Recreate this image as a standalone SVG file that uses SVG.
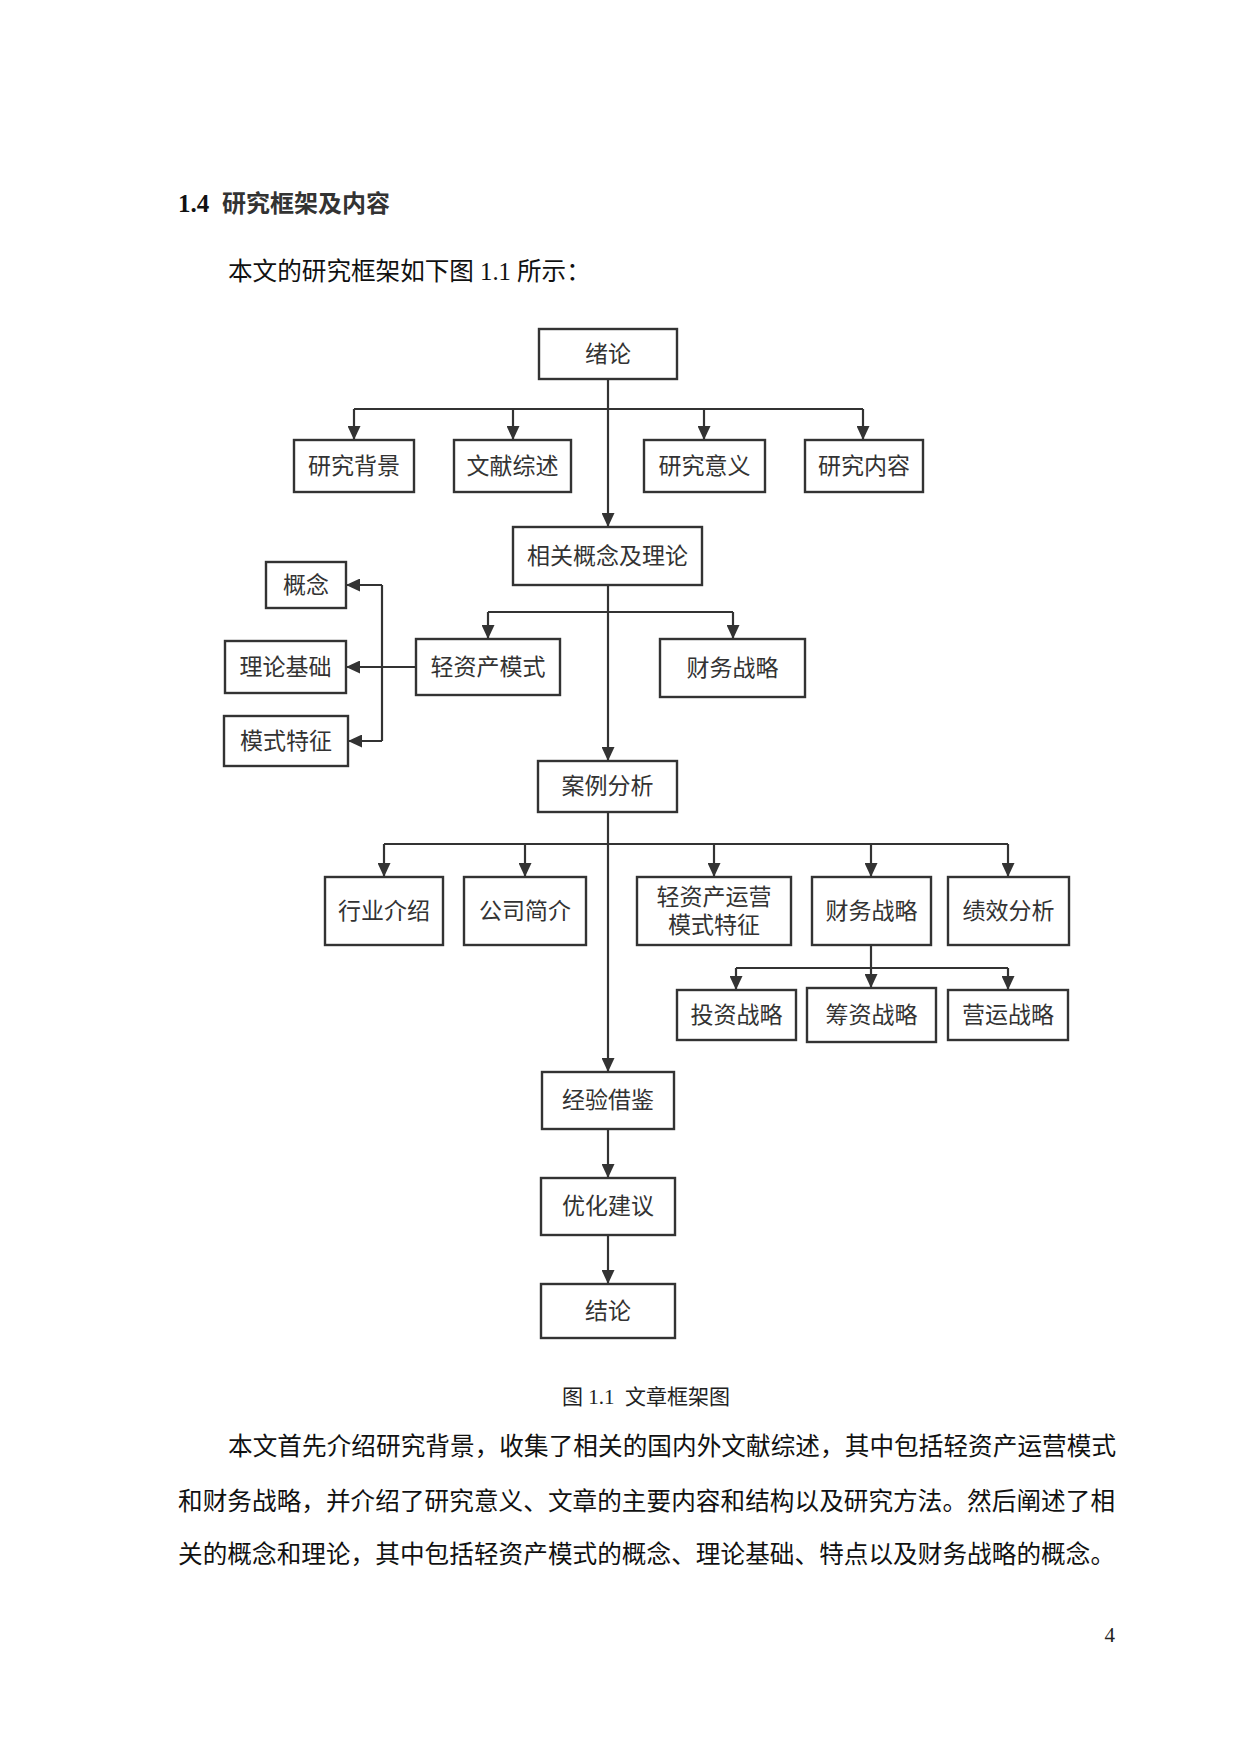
<svg xmlns="http://www.w3.org/2000/svg" width="1234" height="1748" viewBox="0 0 1234 1748">
<style>
  .bg{fill:#ffffff}
  .box{fill:#ffffff;stroke:#333333;stroke-width:2.4}
  .n{font-family:"Liberation Serif","Noto Sans CJK SC",serif;font-size:23px;fill:#333333;text-anchor:middle;dominant-baseline:central}
  .ln{fill:none;stroke:#333333;stroke-width:2.2}
  .body{font-family:"Liberation Serif","Noto Sans CJK SC",serif;font-size:24.6px;fill:#111111}
  .title{font-family:"Liberation Serif","Noto Sans CJK SC",serif;font-size:24px;font-weight:700;fill:#333333}
  .num{font-family:"Liberation Serif",serif;font-size:25px;font-weight:700;fill:#111111}
  .cap{font-family:"Liberation Serif","Noto Sans CJK SC",serif;font-size:21px;fill:#222222}
</style>
<defs>
  <marker id="ah" viewBox="0 0 14 13" refX="14" refY="6.5" markerWidth="14" markerHeight="13" markerUnits="userSpaceOnUse" orient="auto">
    <path d="M0,0 L14,6.5 L0,13 Z" fill="#333333"/>
  </marker>
</defs>
<rect class="bg" x="0" y="0" width="1234" height="1748"/>

<g id="page-text">
  <text class="num" x="178" y="212">1.4</text>
  <text class="title" x="222" y="212">研究框架及内容</text>
  <text class="body" x="228" y="280">本文的研究框架如下图 1.1 所示：</text>
  <text class="cap" x="562" y="1404" xml:space="preserve">图 1.1  文章框架图</text>
  <text class="body" x="228" y="1455" textLength="888" lengthAdjust="spacing">本文首先介绍研究背景，收集了相关的国内外文献综述，其中包括轻资产运营模式</text>
  <text class="body" x="178" y="1510" textLength="937" lengthAdjust="spacing">和财务战略，并介绍了研究意义、文章的主要内容和结构以及研究方法。然后阐述了相</text>
  <text class="body" x="178" y="1563" textLength="937" lengthAdjust="spacing">关的概念和理论，其中包括轻资产模式的概念、理论基础、特点以及财务战略的概念。</text>
  <text class="cap" x="1115" y="1642" text-anchor="end">4</text>
</g>

<g id="connectors">
  <path class="ln" d="M608,379 V527" marker-end="url(#ah)"/>
  <path class="ln" d="M354,409 H863"/>
  <path class="ln" d="M354,409 V440" marker-end="url(#ah)"/>
  <path class="ln" d="M513,409 V440" marker-end="url(#ah)"/>
  <path class="ln" d="M704,409 V440" marker-end="url(#ah)"/>
  <path class="ln" d="M863,409 V440" marker-end="url(#ah)"/>
  <path class="ln" d="M608,585 V761" marker-end="url(#ah)"/>
  <path class="ln" d="M488,612 H733"/>
  <path class="ln" d="M488,612 V639" marker-end="url(#ah)"/>
  <path class="ln" d="M733,612 V639" marker-end="url(#ah)"/>
  <path class="ln" d="M416,667 H346" marker-end="url(#ah)"/>
  <path class="ln" d="M382,585 V741"/>
  <path class="ln" d="M382,585 H346" marker-end="url(#ah)"/>
  <path class="ln" d="M382,741 H348" marker-end="url(#ah)"/>
  <path class="ln" d="M608,812 V1072" marker-end="url(#ah)"/>
  <path class="ln" d="M384,844 H1008"/>
  <path class="ln" d="M384,844 V877" marker-end="url(#ah)"/>
  <path class="ln" d="M525,844 V877" marker-end="url(#ah)"/>
  <path class="ln" d="M714,844 V877" marker-end="url(#ah)"/>
  <path class="ln" d="M871,844 V877" marker-end="url(#ah)"/>
  <path class="ln" d="M1008,844 V877" marker-end="url(#ah)"/>
  <path class="ln" d="M871,945 V988" marker-end="url(#ah)"/>
  <path class="ln" d="M736,968 H1008"/>
  <path class="ln" d="M736,968 V990" marker-end="url(#ah)"/>
  <path class="ln" d="M1008,968 V990" marker-end="url(#ah)"/>
  <path class="ln" d="M608,1129 V1178" marker-end="url(#ah)"/>
  <path class="ln" d="M608,1235 V1284" marker-end="url(#ah)"/>
</g>

<g id="n-xulun"><rect class="box" x="539" y="329" width="138" height="50"/><text class="n" x="608" y="354">绪论</text></g>
<g id="n-beijing"><rect class="box" x="294" y="440" width="120" height="52"/><text class="n" x="354" y="466">研究背景</text></g>
<g id="n-wenxian"><rect class="box" x="454" y="440" width="117" height="52"/><text class="n" x="512.5" y="466">文献综述</text></g>
<g id="n-yiyi"><rect class="box" x="644" y="440" width="121" height="52"/><text class="n" x="704.5" y="466">研究意义</text></g>
<g id="n-neirong"><rect class="box" x="805" y="440" width="118" height="52"/><text class="n" x="864" y="466">研究内容</text></g>
<g id="n-xiangguan"><rect class="box" x="513" y="527" width="189" height="58"/><text class="n" x="607.5" y="556">相关概念及理论</text></g>
<g id="n-gainian"><rect class="box" x="266" y="562" width="80" height="46"/><text class="n" x="306" y="585">概念</text></g>
<g id="n-lilun"><rect class="box" x="225" y="641" width="121" height="52"/><text class="n" x="285.5" y="667">理论基础</text></g>
<g id="n-tezheng"><rect class="box" x="224" y="716" width="124" height="50"/><text class="n" x="286" y="741">模式特征</text></g>
<g id="n-qingzichan"><rect class="box" x="416" y="639" width="144" height="56"/><text class="n" x="488" y="667">轻资产模式</text></g>
<g id="n-caiwu1"><rect class="box" x="660" y="639" width="145" height="58"/><text class="n" x="732.5" y="668">财务战略</text></g>
<g id="n-anli"><rect class="box" x="538" y="761" width="139" height="51"/><text class="n" x="607.5" y="786.5">案例分析</text></g>
<g id="n-hangye"><rect class="box" x="325" y="877" width="118" height="68"/><text class="n" x="384" y="911">行业介绍</text></g>
<g id="n-gongsi"><rect class="box" x="464" y="877" width="122" height="68"/><text class="n" x="525" y="911">公司简介</text></g>
<g id="n-yunying"><rect class="box" x="637" y="877" width="154" height="68"/><text class="n" x="714" y="897">轻资产运营</text><text class="n" x="714" y="925">模式特征</text></g>
<g id="n-caiwu2"><rect class="box" x="812" y="877" width="119" height="68"/><text class="n" x="871.5" y="911">财务战略</text></g>
<g id="n-jixiao"><rect class="box" x="948" y="877" width="121" height="68"/><text class="n" x="1008.5" y="911">绩效分析</text></g>
<g id="n-touzi"><rect class="box" x="677" y="990" width="119" height="50"/><text class="n" x="736.5" y="1015">投资战略</text></g>
<g id="n-chouzi"><rect class="box" x="807" y="988" width="129" height="54"/><text class="n" x="871.5" y="1015">筹资战略</text></g>
<g id="n-yingyun"><rect class="box" x="948" y="990" width="120" height="50"/><text class="n" x="1008" y="1015">营运战略</text></g>
<g id="n-jingyan"><rect class="box" x="542" y="1072" width="132" height="57"/><text class="n" x="608" y="1100.5">经验借鉴</text></g>
<g id="n-youhua"><rect class="box" x="541" y="1178" width="134" height="57"/><text class="n" x="608" y="1206.5">优化建议</text></g>
<g id="n-jielun"><rect class="box" x="541" y="1284" width="134" height="54"/><text class="n" x="608" y="1311">结论</text></g>
</svg>
